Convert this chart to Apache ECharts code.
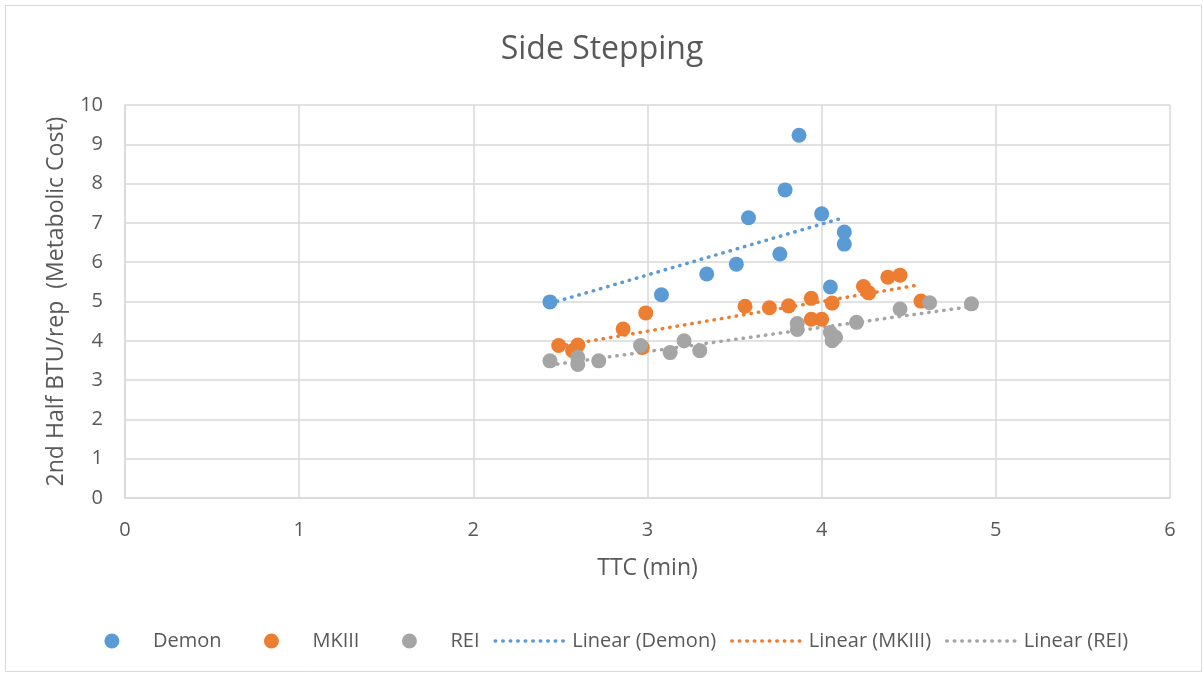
<!DOCTYPE html>
<html>
<head>
<meta charset="utf-8">
<title>Side Stepping</title>
<script src="https://cdn.jsdelivr.net/npm/echarts@6/dist/echarts.min.js"></script>
<style>
  html, body { margin: 0; padding: 0; background: #ffffff; }
  #chart { width: 1204px; height: 675px; }
</style>
</head>
<body>
<div id="chart"></div>
<script>
// Time to complete (min) and 2nd-half metabolic cost (BTU/rep) per device
const demonTTC = [2.44, 3.08, 3.34, 3.51, 3.58, 3.76, 3.79, 3.87, 4.00, 4.13, 4.13, 4.05];
const demonBTU = [4.99, 5.17, 5.70, 5.95, 7.13, 6.21, 7.84, 9.23, 7.23, 6.77, 6.46, 5.37];

const mk3TTC = [2.49, 2.60, 2.57, 2.86, 2.99, 2.97, 3.56, 3.70, 3.81, 3.94, 3.94, 4.00, 4.06, 4.24, 4.27, 4.38, 4.45, 4.57];
const mk3BTU = [3.88, 3.89, 3.75, 4.30, 4.71, 3.83, 4.88, 4.84, 4.89, 5.08, 4.55, 4.55, 4.96, 5.38, 5.22, 5.62, 5.67, 5.01];

const reiTTC = [2.44, 2.60, 2.60, 2.72, 2.96, 3.13, 3.21, 3.30, 3.86, 3.86, 4.05, 4.08, 4.06, 4.20, 4.45, 4.62, 4.86];
const reiBTU = [3.49, 3.58, 3.40, 3.49, 3.88, 3.70, 4.00, 3.75, 4.44, 4.29, 4.21, 4.09, 4.00, 4.47, 4.81, 4.97, 4.94];

const seriesNames = ['Demon', 'MKIII', 'REI'];
const seriesColors = ['#5B9BD5', '#ED7D31', '#A5A5A5'];
const xTicks = [0, 1, 2, 3, 4, 5, 6];
const yTicks = [0, 1, 2, 3, 4, 5, 6, 7, 8, 9, 10];

const TEXT = '#595959';
const GRID = '#D9D9D9';
const FONT = '"Open Sans", "Noto Sans", sans-serif';

// Legend marker: a dot centred in a full-width 72x15 swatch box
const LEGEND_DOT = 'path://M0,0M72,15M28.5,7.5A7.5,7.5,0,1,1,43.5,7.5A7.5,7.5,0,1,1,28.5,7.5Z';

function pairs(xs, ys) {
  return xs.map((x, i) => [x, ys[i]]);
}

// Least-squares fit drawn across the observed TTC range
function linearFit(xs, ys) {
  const n = xs.length;
  let sx = 0, sy = 0, sxx = 0, sxy = 0;
  for (let i = 0; i < n; i++) {
    sx += xs[i]; sy += ys[i];
    sxx += xs[i] * xs[i]; sxy += xs[i] * ys[i];
  }
  const slope = (n * sxy - sx * sy) / (n * sxx - sx * sx);
  const icpt = (sy - slope * sx) / n;
  const x0 = Math.min(...xs), x1 = Math.max(...xs);
  return [[x0, icpt + slope * x0], [x1, icpt + slope * x1]];
}

const groups = [
  [demonTTC, demonBTU],
  [mk3TTC, mk3BTU],
  [reiTTC, reiBTU]
];

const scatterSeries = groups.map((g, i) => ({
  name: seriesNames[i],
  type: 'scatter',
  data: pairs(g[0], g[1]),
  symbol: 'circle',
  symbolSize: 15,
  itemStyle: { color: seriesColors[i], opacity: 1 },
  z: 3
}));

const trendNames = seriesNames.map(n => 'Linear (' + n + ')');

const trendSeries = groups.map((g, i) => ({
  name: trendNames[i],
  type: 'line',
  data: linearFit(g[0], g[1]),
  showSymbol: false,
  symbol: 'none',
  silent: true,
  lineStyle: { color: seriesColors[i], width: 3.5, type: [0.5, 7], cap: 'round' },
  itemStyle: { color: seriesColors[i] },
  z: 2
}));

const chart = echarts.init(document.getElementById('chart'), null, { renderer: 'canvas' });

chart.setOption({
  animation: false,
  backgroundColor: '#ffffff',
  textStyle: { fontFamily: FONT, color: TEXT },
  title: {
    text: 'Side Stepping',
    left: 'center',
    top: 29,
    textStyle: { fontFamily: FONT, fontSize: 32, fontWeight: 'normal', color: TEXT }
  },
  graphic: [{
    type: 'rect',
    shape: { x: 5.5, y: 5.5, width: 1196, height: 666 },
    style: { fill: 'none', stroke: GRID, lineWidth: 1 },
    silent: true,
    z: -1
  }],
  grid: { left: 125, right: 34, top: 105, bottom: 177, containLabel: false },
  xAxis: {
    type: 'value',
    min: xTicks[0],
    max: xTicks[xTicks.length - 1],
    interval: 1,
    name: 'TTC (min)',
    nameLocation: 'middle',
    nameGap: 59,
    nameTextStyle: { fontFamily: FONT, fontSize: 23, color: TEXT },
    axisLine: { show: true, lineStyle: { color: GRID, width: 1.5 } },
    axisTick: { show: false },
    axisLabel: { fontFamily: FONT, fontSize: 20, color: TEXT, margin: 22 },
    splitLine: { show: true, lineStyle: { color: GRID, width: 1.5 } }
  },
  yAxis: {
    type: 'value',
    min: yTicks[0],
    max: yTicks[yTicks.length - 1],
    interval: 1,
    name: '2nd Half BTU/rep  (Metabolic Cost)',
    nameLocation: 'middle',
    nameGap: 57,
    nameTextStyle: { fontFamily: FONT, fontSize: 23, color: TEXT },
    axisLine: { show: true, lineStyle: { color: GRID, width: 1.5 } },
    axisTick: { show: false },
    axisLabel: { fontFamily: FONT, fontSize: 20, color: TEXT, margin: 22 },
    splitLine: { show: true, lineStyle: { color: GRID, width: 1.5 } }
  },
  legend: {
    left: 'center',
    top: 626,
    itemWidth: 72,
    itemHeight: 15,
    itemGap: 14,
    selectedMode: false,
    textStyle: { fontFamily: FONT, fontSize: 20, color: TEXT },
    lineStyle: { width: 3.5 },
    data: seriesNames.map(n => ({ name: n, icon: LEGEND_DOT }))
      .concat(trendNames.map(n => ({ name: n, itemStyle: { color: 'rgba(0,0,0,0)' } })))
  },
  series: trendSeries.concat(scatterSeries)
});
</script>
</body>
</html>
